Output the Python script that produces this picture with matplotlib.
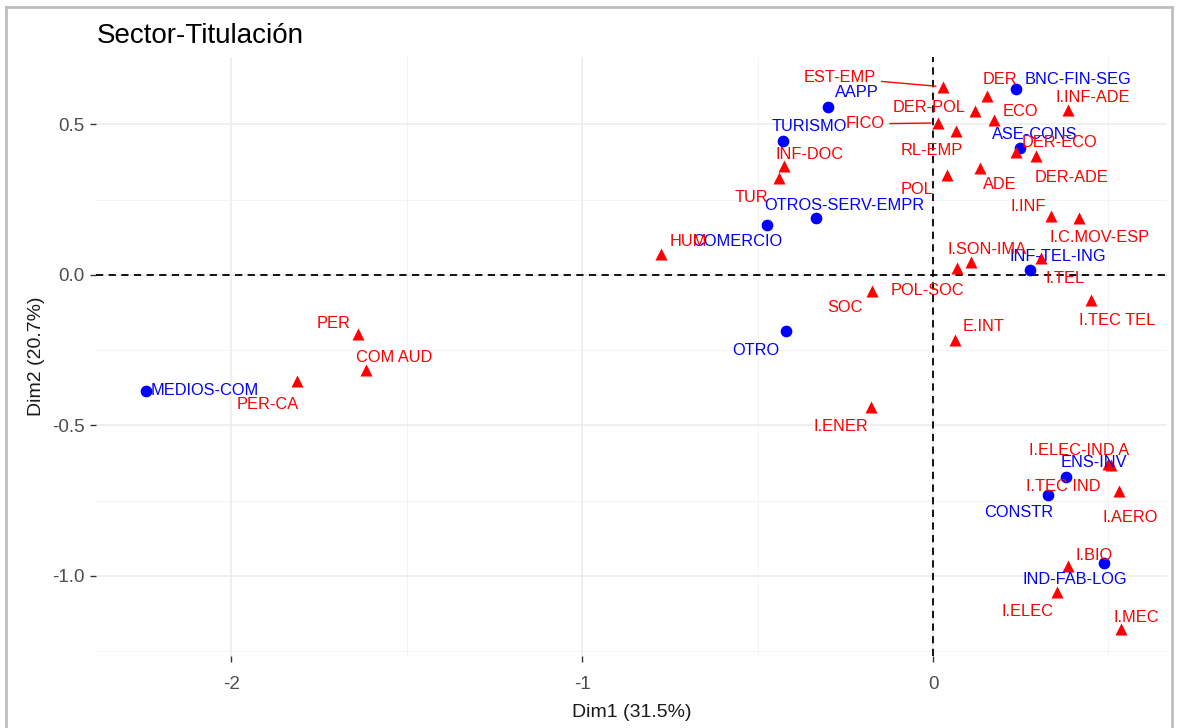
import matplotlib.pyplot as plt
from matplotlib.ticker import MultipleLocator
from matplotlib.lines import Line2D

# Coordenadas del analisis de correspondencias (Dim1, Dim2)
# Sectores (filas)
sectores = ['MEDIOS-COM', 'AAPP', 'TURISMO', 'COMERCIO', 'OTROS-SERV-EMPR', 'OTRO',
            'BNC-FIN-SEG', 'ASE-CONS', 'INF-TEL-ING', 'ENS-INV', 'CONSTR', 'IND-FAB-LOG']
sect_dim1 = [-2.242, -0.299, -0.427, -0.473, -0.333, -0.419,
             0.236, 0.248, 0.276, 0.379, 0.328, 0.487]
sect_dim2 = [-0.385, 0.558, 0.445, 0.166, 0.189, -0.186,
             0.618, 0.422, 0.017, -0.671, -0.731, -0.957]

# Titulaciones (columnas)
titulaciones = ['EST-EMP', 'DER', 'I.INF-ADE', 'DER-POL', 'ECO', 'FICO', 'RL-EMP',
                'DER-ECO', 'DER-ADE', 'ADE', 'POL', 'INF-DOC', 'TUR', 'HUM', 'I.INF',
                'I.C.MOV-ESP', 'I.SON-IMA', 'I.TEL', 'I.TEC TEL', 'POL-SOC', 'SOC',
                'E.INT', 'PER', 'COM AUD', 'PER-CA', 'I.ENER', 'I.ELEC-IND A',
                'I.TEC IND', 'I.AERO', 'I.BIO', 'I.ELEC', 'I.MEC']
tit_dim1 = [0.028, 0.154, 0.385, 0.120, 0.174, 0.014, 0.066,
            0.236, 0.293, 0.134, 0.040, -0.425, -0.439, -0.775, 0.336,
            0.416, 0.108, 0.308, 0.450, 0.068, -0.174,
            0.063, -1.638, -1.615, -1.812, -0.177, 0.499,
            0.507, 0.530, 0.385, 0.353, 0.536]
tit_dim2 = [0.625, 0.595, 0.548, 0.545, 0.515, 0.505, 0.478,
            0.409, 0.395, 0.355, 0.332, 0.362, 0.322, 0.070, 0.196,
            0.189, 0.043, 0.056, -0.083, 0.023, -0.053,
            -0.216, -0.196, -0.316, -0.352, -0.439, -0.628,
            -0.631, -0.718, -0.967, -1.053, -1.176]

inercia = [31.5, 20.7]

# Desplazamiento de las etiquetas (px a la derecha, px hacia abajo)
desp_sect = {'MEDIOS-COM': (59, 0), 'AAPP': (29, -14), 'TURISMO': (26, -14),
             'COMERCIO': (-30, 17), 'OTROS-SERV-EMPR': (28, -13), 'OTRO': (-30, 20),
             'BNC-FIN-SEG': (62, -9), 'ASE-CONS': (15, -13), 'INF-TEL-ING': (28, -13),
             'ENS-INV': (28, -14), 'CONSTR': (-29, 18), 'IND-FAB-LOG': (-29, 17)}
desp_tit = {'EST-EMP': (-103, -9), 'DER': (13, -16), 'I.INF-ADE': (25, -12),
            'DER-POL': (-46, -3), 'ECO': (26, -8), 'FICO': (-73, 1), 'RL-EMP': (-24, 19),
            'DER-ECO': (44, -9), 'DER-ADE': (36, 21), 'ADE': (20, 16), 'POL': (-30, 15),
            'INF-DOC': (26, -11), 'TUR': (-27, 19), 'HUM': (27, -12), 'I.INF': (-23, -9),
            'I.C.MOV-ESP': (21, 19), 'I.SON-IMA': (16, -12), 'I.TEL': (24, 20),
            'I.TEC TEL': (26, 21), 'POL-SOC': (-29, 22), 'SOC': (-27, 17),
            'E.INT': (28, -13), 'PER': (-25, -10), 'COM AUD': (28, -13),
            'PER-CA': (-29, 24), 'I.ENER': (-30, 19), 'I.ELEC-IND A': (-29, -13),
            'I.TEC IND': (-48, 22), 'I.AERO': (11, 26), 'I.BIO': (26, -11),
            'I.ELEC': (-29, 20), 'I.MEC': (15, -11)}
con_segmento = ['EST-EMP', 'FICO']

plt.rcParams['font.family'] = ['Liberation Sans', 'DejaVu Sans']

fig = plt.figure(figsize=(11.79, 7.28), dpi=100)
ax = fig.add_axes([0.0814, 0.0989, 0.9085, 0.8228])

# Marco gris alrededor de la figura
for xs, ys in [([6, 6], [0, 721]), ([6, 1172], [721, 721]), ([1172, 1172], [0, 721])]:
    fig.add_artist(Line2D([v / 1179 for v in xs], [v / 728 for v in ys],
                          color='#BEBEBE', lw=2))

ax.set_xlim(-2.385, 0.667)
ax.set_ylim(-1.266, 0.724)

# Rejilla tipo theme_minimal
ax.xaxis.set_major_locator(MultipleLocator(1))
ax.xaxis.set_minor_locator(MultipleLocator(0.5))
ax.yaxis.set_major_locator(MultipleLocator(0.5))
ax.yaxis.set_minor_locator(MultipleLocator(0.25))
ax.grid(which='major', color='#EBEBEB', lw=1.1)
ax.grid(which='minor', color='#F2F2F2', lw=0.6)
ax.set_axisbelow(True)
for s in ax.spines.values():
    s.set_visible(False)
ax.tick_params(which='minor', length=0)
ax.tick_params(which='major', length=4, width=1, color='#333333',
               labelcolor='#4D4D4D', labelsize=13.5)
ax.tick_params(axis='x', pad=10.5)
ax.tick_params(axis='y', pad=4)
ax.set_yticks([-1.0, -0.5, 0.0, 0.5])
ax.set_yticklabels(['-1.0', '-0.5', '0.0', '0.5'])
ax.set_xticks([-2, -1, 0])
ax.set_xticklabels(['-2', '-1', '0'])

ax.axhline(0, color='black', lw=1.3, ls=(0, (4, 3)), zorder=1)
ax.axvline(0, color='black', lw=1.3, ls=(0, (4, 3)), zorder=1)

ax.scatter(sect_dim1, sect_dim2, s=55, marker='o', color='#0000FF', zorder=3)
ax.scatter(tit_dim1, tit_dim2, s=75, marker='^', color='#FF0000', lw=0, zorder=3)

for nombre, x, y in zip(sectores, sect_dim1, sect_dim2):
    dx, dy = desp_sect[nombre]
    ax.annotate(nombre, (x, y), xytext=(dx * 0.72, -dy * 0.72), textcoords='offset points',
                ha='center', va='center', color='#0000FF', fontsize=11.8, zorder=4)

for nombre, x, y in zip(titulaciones, tit_dim1, tit_dim2):
    dx, dy = desp_tit[nombre]
    flecha = None
    if nombre in con_segmento:
        flecha = dict(arrowstyle='-', color='#FF0000', lw=1, shrinkA=2, shrinkB=5)
    ax.annotate(nombre, (x, y), xytext=(dx * 0.72, -dy * 0.72), textcoords='offset points',
                ha='center', va='center', color='#FF0000', fontsize=11.8, zorder=4,
                arrowprops=flecha)

ax.set_xlabel('Dim1 (%.1f%%)' % inercia[0], fontsize=14, color='#1A1A1A', labelpad=8)
ax.set_ylabel('Dim2 (%.1f%%)' % inercia[1], fontsize=14, color='#1A1A1A', labelpad=5)
fig.text(97 / 1179, 1 - 36 / 728, 'Sector-Titulación', fontsize=20, color='black',
         ha='left', va='center')

fig.savefig('out.png', dpi=100)
